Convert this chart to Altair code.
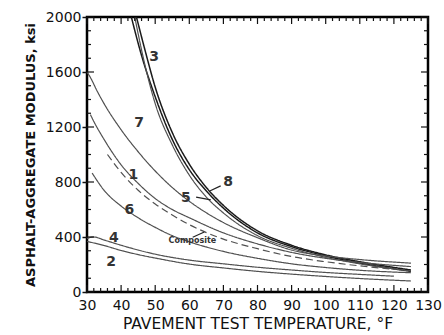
import altair as alt
import pandas as pd

# ---- data ----
c3_t = [43, 46, 50, 55, 60, 65, 70, 80, 90, 100, 110, 125]
c3_m = [2000, 1720, 1420, 1110, 890, 735, 610, 430, 330, 262, 210, 150]
c8_t = [44.5, 47, 50, 55, 60, 65, 70, 80, 90, 100, 110, 125]
c8_m = [2000, 1760, 1490, 1160, 930, 760, 630, 445, 340, 270, 220, 160]
c5_t = [44, 47, 50, 55, 60, 65, 70, 80, 90, 100, 110, 125]
c5_m = [2000, 1650, 1370, 1070, 850, 690, 575, 410, 318, 252, 205, 152]
c7_t = [30, 31, 33, 35, 40, 45, 50, 55, 60, 70, 80, 90, 100, 110, 125]
c7_m = [1600, 1560, 1460, 1370, 1180, 1020, 880, 760, 660, 505, 395, 305, 262, 236, 210]
c1_t = [31, 32, 35, 40, 45, 50, 55, 60, 70, 80, 90, 100, 110, 125]
c1_m = [1290, 1240, 1110, 925, 790, 680, 600, 540, 430, 350, 288, 245, 215, 185]
comp_t = [36, 40, 45, 50, 55, 60, 65, 70, 80, 90, 100, 110, 120]
comp_m = [1000, 870, 740, 640, 560, 490, 432, 385, 315, 258, 220, 190, 165]
c6_t = [31.5, 35, 40, 45, 50, 55, 60, 70, 80, 90, 100, 110, 125]
c6_m = [865, 740, 625, 540, 470, 410, 365, 295, 245, 205, 178, 158, 140]
c4_t = [30, 32, 35, 40, 45, 50, 60, 70, 80, 90, 100, 110, 120]
c4_m = [390, 400, 378, 340, 305, 275, 232, 205, 180, 160, 142, 128, 115]
c2_t = [30, 35, 40, 45, 50, 60, 70, 80, 90, 100, 110, 125]
c2_m = [368, 338, 302, 272, 247, 203, 175, 150, 130, 113, 98, 80]

curve_names = ["3", "8", "5", "7", "1", "Composite", "6", "4", "2"]
curve_data = [(c3_t, c3_m), (c8_t, c8_m), (c5_t, c5_m), (c7_t, c7_m), (c1_t, c1_m),
              (comp_t, comp_m), (c6_t, c6_m), (c4_t, c4_m), (c2_t, c2_m)]
dark_curves = ["3", "8"]

label_text = ["3", "7", "1", "5", "8", "6", "4", "2", "Composite"]
label_t = [49.7, 45.3, 43.6, 59.0, 71.4, 42.4, 37.9, 37.1, 60.9]
label_m = [1709, 1229, 850, 684, 800, 596, 393, 218, 372]
label_size = [14, 14, 14, 14, 14, 14, 14, 14, 8]

arrow_t = [62.0, 69.2, 61.0]
arrow_m = [690, 772, 398]
arrow_t2 = [66.3, 66.0, 64.4]
arrow_m2 = [670, 735, 436]

x_major = list(range(30, 131, 10))
x_minor = [v for v in range(30, 131, 2) if v % 10 != 0]
y_major = list(range(0, 2001, 400))
y_minor = [v for v in range(0, 2001, 100) if v % 400 != 0]

W, H = 341, 275
FONT = "DejaVu Sans"

rows = []
for name, (ts, ms) in zip(curve_names, curve_data):
    for t, m in zip(ts, ms):
        rows.append({"curve": name, "T": t, "M": m,
                     "dash": name == "Composite", "dark": name in dark_curves})
df = pd.DataFrame(rows)

xs = alt.Scale(domain=[30, 130], nice=False, zero=False)
ys = alt.Scale(domain=[0, 2000], nice=False)

x_axis = alt.Axis(
    values=x_major, format="d", title="PAVEMENT TEST TEMPERATURE, °F",
    labelFont=FONT, labelFontSize=14, labelColor="#111", labelPadding=6,
    labelOverlap=False, labelFlush=False,
    titleFont=FONT, titleFontSize=15.5, titleFontWeight="normal", titleColor="#111",
    titlePadding=4, domain=False, ticks=False, grid=False)
y_axis = alt.Axis(
    values=y_major, format="d", title="ASPHALT-AGGREGATE MODULUS, ksi",
    labelFont=FONT, labelFontSize=14, labelColor="#111", labelPadding=1,
    labelOverlap=False, labelFlush=False,
    tickSize=5, tickColor="#111", tickWidth=1.5,
    titleFont=FONT, titleFontSize=13, titleFontWeight="bold", titleColor="#111",
    titlePadding=8, domain=False, grid=False)


def X(field):
    return alt.X(field, scale=xs, axis=x_axis)


def Y(field):
    return alt.Y(field, scale=ys, axis=y_axis)


lines = alt.Chart(df).mark_line(interpolate="monotone", clip=True).encode(
    x=X("T:Q"), y=Y("M:Q"),
    detail="curve:N",
    strokeDash=alt.StrokeDash("dash:N", scale=alt.Scale(domain=[False, True], range=[[1, 0], [7, 4]]), legend=None),
    color=alt.Color("dark:N", scale=alt.Scale(domain=[False, True], range=["#505050", "#1a1a1a"]), legend=None),
    strokeWidth=alt.StrokeWidth("dark:N", scale=alt.Scale(domain=[False, True], range=[1.2, 1.5]), legend=None),
)

ldf = pd.DataFrame({"label": label_text, "T": label_t, "M": label_m, "size": label_size})
labels = alt.Chart(ldf).mark_text(font=FONT, fontWeight="bold", color="#333").encode(
    x=X("T:Q"), y=Y("M:Q"), text="label:N",
    size=alt.Size("size:Q", scale=None, legend=None))

adf = pd.DataFrame({"T": arrow_t, "M": arrow_m, "T2": arrow_t2, "M2": arrow_m2})
arrows = alt.Chart(adf).mark_rule(color="#222", strokeWidth=1.2).encode(
    x=X("T:Q"), y=Y("M:Q"), x2="T2:Q", y2="M2:Q")


def xticks(vals, length, top):
    d = pd.DataFrame({"T": vals})
    if top:
        enc = dict(y=alt.value(0), y2=alt.value(length))
    else:
        enc = dict(y=alt.value(H), y2=alt.value(H - length))
    return alt.Chart(d).mark_rule(color="#111", strokeWidth=1.2).encode(x=X("T:Q"), **enc)


def yticks(vals, length, right):
    d = pd.DataFrame({"M": vals})
    if right:
        enc = dict(x=alt.value(W), x2=alt.value(W - length))
    else:
        enc = dict(x=alt.value(0), x2=alt.value(length))
    return alt.Chart(d).mark_rule(color="#111", strokeWidth=1.2).encode(y=Y("M:Q"), **enc)


ticks = [
    xticks(x_minor, 4, False), xticks(x_major, 7, False),
    xticks(x_minor, 4, True), xticks(x_major, 7, True),
    yticks(y_minor, 4, False), yticks(y_major, 7, False),
    yticks(y_minor, 4, True), yticks(y_major, 7, True),
]

chart = alt.layer(lines, *ticks, arrows, labels).properties(
    width=W, height=H,
    autosize=alt.AutoSizeParams(type="none"),
    padding={"left": 87, "top": 17, "right": 16, "bottom": 43},
    background="white",
).configure_view(stroke="#000", strokeWidth=2.5).configure_axisX(labelOverlap=False)

chart.save("out.html", embed_options={"renderer": "svg", "actions": False})
